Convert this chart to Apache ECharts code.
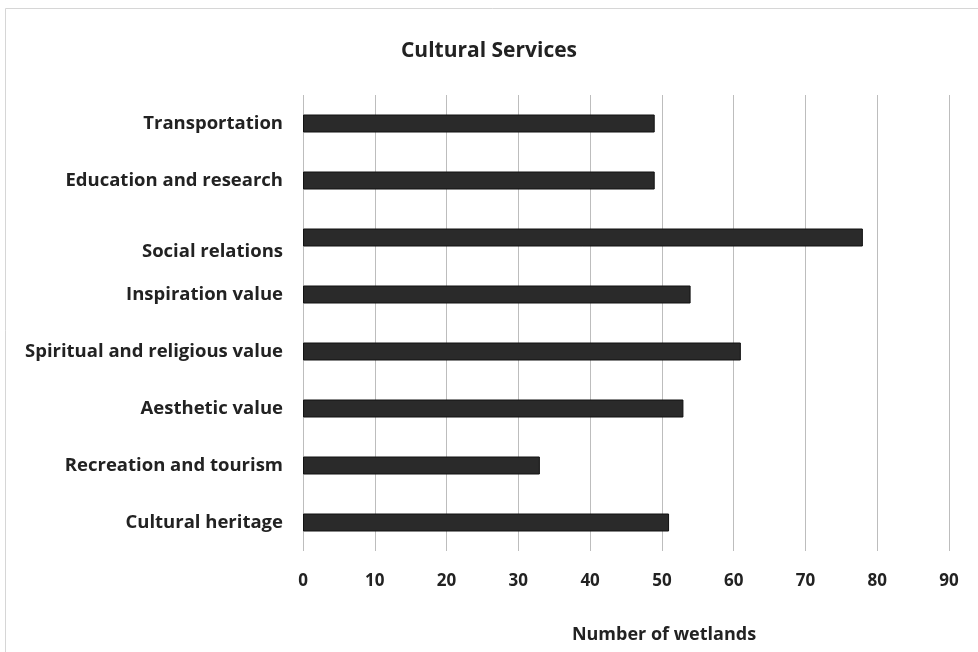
<!DOCTYPE html>
<html>
<head>
<meta charset="utf-8">
<script src="https://cdn.jsdelivr.net/npm/echarts@6/dist/echarts.min.js"></script>
<style>
  html, body { margin: 0; padding: 0; background: #fff; }
  #chart { width: 978px; height: 652px; }
</style>
</head>
<body>
<div id="chart"></div>
<script>
// Categories listed top to bottom
const categories = [
  'Transportation',
  'Education and research',
  'Social relations',
  'Inspiration value',
  'Spiritual and religious value',
  'Aesthetic value',
  'Recreation and tourism',
  'Cultural heritage'
];
// Number of wetlands per category (same order)
const wetlandCounts = [49, 49, 78, 54, 61, 53, 33, 51];
const xTicks = [0, 10, 20, 30, 40, 50, 60, 70, 80, 90];

const font = '"Open Sans", Lato, sans-serif';
const chart = echarts.init(document.getElementById('chart'));

chart.setOption({
  backgroundColor: '#fff',
  animation: false,
  title: {
    text: 'Cultural Services',
    left: 'center',
    top: 36,
    textStyle: { fontFamily: font, fontSize: 21, fontWeight: 'bold', color: '#222' }
  },
  graphic: [{
    type: 'rect',
    shape: { x: 5.5, y: 8.5, width: 975, height: 650 },
    style: { fill: 'none', stroke: '#d6d6d6', lineWidth: 1 }
  }],
  grid: { left: 303, right: 29, top: 95, bottom: 101 },
  xAxis: {
    type: 'value',
    min: xTicks[0],
    max: xTicks[xTicks.length - 1],
    interval: 10,
    name: 'Number of wetlands',
    nameLocation: 'middle',
    nameGap: 75,
    nameTextStyle: { fontFamily: font, fontSize: 18, fontWeight: 'bold', color: '#222', padding: [0, 0, 0, 76] },
    axisLine: { show: false },
    axisTick: { show: false },
    axisLabel: { fontFamily: font, fontSize: 17, fontWeight: 'bold', color: '#222', margin: 22 },
    splitLine: { show: true, lineStyle: { color: '#bdbdbd', width: 1 } }
  },
  yAxis: {
    type: 'category',
    inverse: true,
    data: categories,
    axisLine: { show: false },
    axisTick: { show: false },
    axisLabel: {
      fontFamily: font, fontSize: 18.5, fontWeight: 'bold', color: '#222', margin: 20,
      // the 'Social relations' label sits a little below its bar
      formatter: v => v === 'Social relations' ? '{low|' + v + '}' : v,
      rich: {
        low: { fontFamily: font, fontSize: 18.5, fontWeight: 'bold', color: '#222', padding: [28, 0, 0, 0] }
      }
    }
  },
  series: [{
    type: 'bar',
    data: wetlandCounts,
    barWidth: 18,
    itemStyle: { color: '#2a2a2a', borderColor: '#111', borderWidth: 1 }
  }]
});
</script>
</body>
</html>
